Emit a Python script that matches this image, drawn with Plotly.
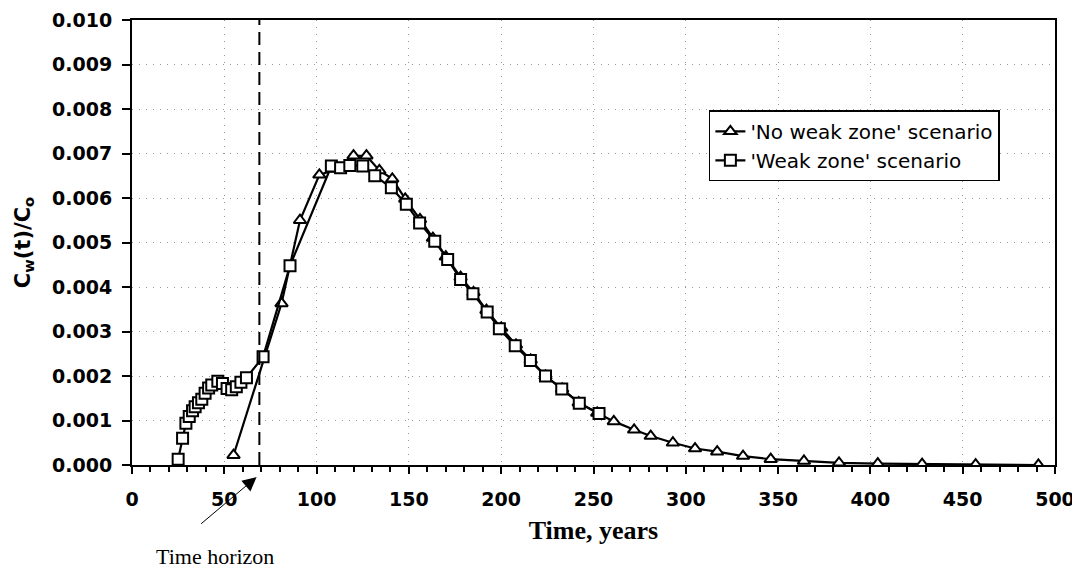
import plotly.graph_objects as go

# 'No weak zone' scenario (triangles)
no_weak_t = [55, 81, 91, 101.5, 111, 120, 127, 134, 141, 148, 156, 163, 170, 178,
             185, 192, 200, 208, 216, 224, 233, 242, 252, 261, 272, 281, 293, 305,
             317, 331, 346, 364, 383, 404, 428, 457, 491]
no_weak_c = [0.00022, 0.00363, 0.0055, 0.00652, 0.00665, 0.00695, 0.00695, 0.00662,
             0.00643, 0.00598, 0.00552, 0.0051, 0.00468, 0.00422, 0.00388, 0.00348,
             0.00308, 0.0027, 0.00236, 0.002, 0.00171, 0.0014, 0.00117, 0.00098,
             0.00079, 0.00065, 0.0005, 0.00037, 0.0003, 0.0002, 0.00013, 0.00009,
             0.00005, 0.00003, 0.00002, 0.00001, 0.0]

# 'Weak zone' scenario (squares)
weak_t = [25, 27.4, 29.2, 31, 32.8, 34.2, 36, 37.8, 39.6, 41.5, 43.2, 46.5, 49,
          51.5, 54, 56.5, 59, 62, 71, 85.6, 108, 113, 118, 125, 131.5, 140.5,
          148.6, 155.8, 164, 171, 178, 184.7, 192.4, 199, 207.6, 215.8, 224,
          232.8, 242.3, 253]
weak_c = [0.00013, 0.0006, 0.00094, 0.00109, 0.00122, 0.00131, 0.0014, 0.00148,
          0.00161, 0.00173, 0.0018, 0.00188, 0.00183, 0.00172, 0.00169, 0.00176,
          0.00186, 0.00196, 0.00243, 0.00448, 0.00672, 0.00668, 0.00673, 0.00672,
          0.0065, 0.00623, 0.00586, 0.00544, 0.00503, 0.00462, 0.00417, 0.00385,
          0.00344, 0.00306, 0.00268, 0.00235, 0.002, 0.00171, 0.00139, 0.00116]

time_horizon = 69

fig = go.Figure()
fig.add_trace(go.Scatter(
    x=no_weak_t, y=no_weak_c, mode="lines+markers",
    name="'No weak zone' scenario",
    line={"color": "black", "width": 2.2},
    marker={"symbol": "triangle-up", "size": 11, "color": "white",
            "line": {"color": "black", "width": 2}},
))
fig.add_trace(go.Scatter(
    x=weak_t, y=weak_c, mode="lines+markers",
    name="'Weak zone' scenario",
    line={"color": "black", "width": 2.2},
    marker={"symbol": "square", "size": 11, "color": "white",
            "line": {"color": "black", "width": 2}},
))

fig.add_vline(x=time_horizon, line={"color": "black", "width": 2, "dash": "13px,7px"})

# arrow pointing at the time horizon on the axis
fig.add_annotation(
    x=67.5, y=-0.027, xref="x", yref="paper",
    ax=-57, ay=48, showarrow=True, arrowhead=2, arrowsize=2.8, arrowwidth=1,
    arrowcolor="black", text="",
)
fig.add_annotation(
    x=45, y=-0.205, xref="x", yref="paper", showarrow=False,
    xanchor="center", yanchor="middle",
    text="Time horizon",
    font={"family": "Liberation Serif", "size": 22, "color": "black"},
)

tick_font = {"family": "DejaVu Sans", "size": 19, "color": "black", "weight": "bold"}
grid = {"showgrid": True, "gridcolor": "#999", "griddash": "1px,6px", "gridwidth": 1}

fig.update_layout(
    width=1072, height=563,
    margin={"l": 124, "r": 25, "t": 12, "b": 106},
    paper_bgcolor="white", plot_bgcolor="white",
    font={"family": "DejaVu Sans", "color": "black"},
    legend={
        "x": 0.625, "y": 0.797, "xanchor": "left", "yanchor": "top",
        "bgcolor": "white", "bordercolor": "black", "borderwidth": 1.5,
        "font": {"family": "DejaVu Sans", "size": 20, "color": "black"},
        "tracegroupgap": 0,
    },
    xaxis={
        "range": [0, 500], "dtick": 50, "tick0": 0, "automargin": False,
        "showline": True, "linecolor": "black", "linewidth": 2, "mirror": True,
        "ticks": "outside", "ticklen": 7, "tickwidth": 2, "tickcolor": "black",
        "minor": {"dtick": 10, "ticks": "outside", "ticklen": 5, "tickwidth": 1.5,
                  "tickcolor": "black"},
        "zeroline": False, "ticklabelstandoff": 9,
        "tickfont": tick_font,
        "title": {"text": "Time, years", "standoff": 12,
                  "font": {"family": "Liberation Serif", "size": 26, "color": "black",
                           "weight": "bold"}},
        **grid,
    },
    yaxis={
        "range": [0, 0.010], "dtick": 0.001, "tickformat": ".3f", "automargin": False,
        "showline": True, "linecolor": "black", "linewidth": 2, "mirror": True,
        "ticks": "outside", "ticklen": 8, "tickwidth": 2, "tickcolor": "black",
        "zeroline": False, "ticklabelstandoff": 6,
        "tickfont": tick_font,
        "title": {"text": "C<sub>w</sub>(t)/C<sub>o</sub>", "standoff": 16,
                  "font": {"family": "DejaVu Sans", "size": 21, "color": "black",
                           "weight": "bold"}},
        **grid,
    },
)

fig.write_html("out.html")
